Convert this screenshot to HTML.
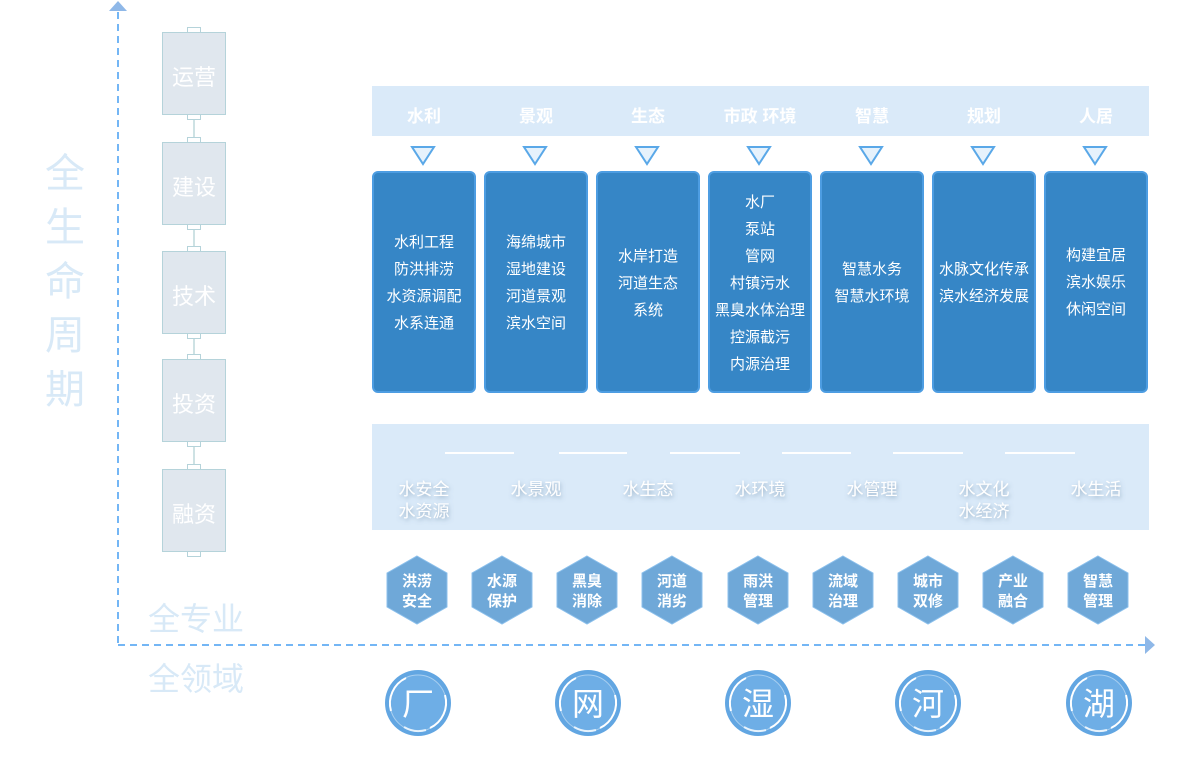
<!DOCTYPE html>
<html><head><meta charset="utf-8"><style>
body{margin:0;background:#fff;width:1201px;height:781px;overflow:hidden}
svg{display:block;font-family:"Liberation Sans","Noto Sans CJK SC",sans-serif}
</style></head><body>
<svg width="1201" height="781" viewBox="0 0 1201 781">
<defs><filter id="sh" x="-20%" y="-20%" width="140%" height="160%"><feDropShadow dx="1" dy="2" stdDeviation="2" flood-color="#5a7a98" flood-opacity="0.55"/></filter></defs>
<line x1="118" y1="12" x2="118" y2="645" stroke="#74b6f5" stroke-width="2" stroke-dasharray="7,5"/>
<polygon points="109,11 118,1 127,11" fill="#8fb8e8"/>
<line x1="118" y1="645" x2="1145" y2="645" stroke="#74b6f5" stroke-width="2" stroke-dasharray="7,5"/>
<polygon points="1145,636 1155,645 1145,654" fill="#8fb8e8"/>
<g fill="#d8e9f7" font-size="40" text-anchor="middle">
<text x="65" y="187">全</text><text x="65" y="241">生</text><text x="65" y="295">命</text><text x="65" y="349">周</text><text x="65" y="403">期</text>
</g>
<g fill="#d8e9f7" font-size="32"><text x="148" y="630">全专业</text><text x="148" y="690">全领域</text></g>
<g stroke="#b5d3da" fill="#fff">
<line x1="194" y1="118" x2="194" y2="140" stroke="#9cc4c8"/>
<line x1="194" y1="228" x2="194" y2="248" stroke="#9cc4c8"/>
<line x1="194" y1="337" x2="194" y2="356" stroke="#9cc4c8"/>
<line x1="194" y1="445" x2="194" y2="466" stroke="#9cc4c8"/>
<rect x="187.5" y="27.5" width="13" height="5"/><rect x="187.5" y="114.5" width="13" height="5"/>
<rect x="187.5" y="137.5" width="13" height="5"/><rect x="187.5" y="224.5" width="13" height="5"/>
<rect x="187.5" y="246.5" width="13" height="5"/><rect x="187.5" y="333.5" width="13" height="5"/>
<rect x="187.5" y="354.5" width="13" height="5"/><rect x="187.5" y="441.5" width="13" height="5"/>
<rect x="187.5" y="464.5" width="13" height="5"/><rect x="187.5" y="551.5" width="13" height="5"/>
</g>
<g fill="#e0e7ee" stroke="#b5d3da">
<rect x="162.5" y="32.5" width="63" height="82"/><rect x="162.5" y="142.5" width="63" height="82"/>
<rect x="162.5" y="251.5" width="63" height="82"/><rect x="162.5" y="359.5" width="63" height="82"/>
<rect x="162.5" y="469.5" width="63" height="82"/>
</g>
<g fill="#fff" font-size="22" text-anchor="middle">
<text x="194" y="85">运营</text><text x="194" y="195">建设</text><text x="194" y="304">技术</text><text x="194" y="412">投资</text><text x="194" y="522">融资</text>
</g>
<rect x="372" y="86" width="777" height="50" fill="#daeaf9"/>
<g fill="#fff" font-size="17" font-weight="bold" text-anchor="middle">
<text x="424" y="122">水利</text><text x="536" y="122">景观</text><text x="648" y="122">生态</text><text x="760" y="122">市政 环境</text><text x="872" y="122">智慧</text><text x="984" y="122">规划</text><text x="1096" y="122">人居</text>
</g>
<g fill="#e6f2fc" stroke="#5aa8e8" stroke-width="2">
<polygon points="412,147 434,147 423,164"/><polygon points="524,147 546,147 535,164"/><polygon points="636,147 658,147 647,164"/><polygon points="748,147 770,147 759,164"/><polygon points="860,147 882,147 871,164"/><polygon points="972,147 994,147 983,164"/><polygon points="1084,147 1106,147 1095,164"/>
</g>
<g fill="#3686c6" stroke="#4d9de2" stroke-width="2">
<rect x="373" y="172" width="102" height="220" rx="5"/><rect x="485" y="172" width="102" height="220" rx="5"/><rect x="597" y="172" width="102" height="220" rx="5"/><rect x="709" y="172" width="102" height="220" rx="5"/><rect x="821" y="172" width="102" height="220" rx="5"/><rect x="933" y="172" width="102" height="220" rx="5"/><rect x="1045" y="172" width="102" height="220" rx="5"/>
</g>
<g fill="#fff" font-size="15" text-anchor="middle">
<text x="424" y="247">水利工程</text><text x="424" y="274">防洪排涝</text><text x="424" y="301">水资源调配</text><text x="424" y="328">水系连通</text>
<text x="536" y="247">海绵城市</text><text x="536" y="274">湿地建设</text><text x="536" y="301">河道景观</text><text x="536" y="328">滨水空间</text>
<text x="648" y="261">水岸打造</text><text x="648" y="288">河道生态</text><text x="648" y="315">系统</text>
<text x="760" y="207">水厂</text><text x="760" y="234">泵站</text><text x="760" y="261">管网</text><text x="760" y="288">村镇污水</text><text x="760" y="315">黑臭水体治理</text><text x="760" y="342">控源截污</text><text x="760" y="369">内源治理</text>
<text x="872" y="274">智慧水务</text><text x="872" y="301">智慧水环境</text>
<text x="984" y="274">水脉文化传承</text><text x="984" y="301">滨水经济发展</text>
<text x="1096" y="260">构建宜居</text><text x="1096" y="287">滨水娱乐</text><text x="1096" y="314">休闲空间</text>
</g>
<rect x="372" y="424" width="777" height="106" fill="#daeaf9"/>
<g stroke="#fff" stroke-width="2">
<line x1="445" y1="453" x2="514" y2="453"/><line x1="559" y1="453" x2="627" y2="453"/><line x1="670" y1="453" x2="740" y2="453"/><line x1="782" y1="453" x2="851" y2="453"/><line x1="893" y1="453" x2="963" y2="453"/><line x1="1005" y1="453" x2="1075" y2="453"/>
</g>
<g fill="#fff" font-size="17" text-anchor="middle" filter="url(#sh)">
<text x="424" y="495">水安全</text><text x="424" y="517">水资源</text><text x="536" y="495">水景观</text><text x="648" y="495">水生态</text><text x="760" y="495">水环境</text><text x="872" y="495">水管理</text><text x="984" y="495">水文化</text><text x="984" y="517">水经济</text><text x="1096" y="495">水生活</text>
</g>
<g fill="#6fa8d8" stroke="#8cc0ec" stroke-width="1">
<polygon points="417,556 447,573 447,607 417,624 387,607 387,573"/>
<polygon points="502,556 532,573 532,607 502,624 472,607 472,573"/>
<polygon points="587,556 617,573 617,607 587,624 557,607 557,573"/>
<polygon points="672,556 702,573 702,607 672,624 642,607 642,573"/>
<polygon points="758,556 788,573 788,607 758,624 728,607 728,573"/>
<polygon points="843,556 873,573 873,607 843,624 813,607 813,573"/>
<polygon points="928,556 958,573 958,607 928,624 898,607 898,573"/>
<polygon points="1013,556 1043,573 1043,607 1013,624 983,607 983,573"/>
<polygon points="1098,556 1128,573 1128,607 1098,624 1068,607 1068,573"/>
</g>
<g fill="#fff" font-size="15" font-weight="bold" text-anchor="middle">
<text x="417" y="586">洪涝</text><text x="417" y="606">安全</text>
<text x="502" y="586">水源</text><text x="502" y="606">保护</text>
<text x="587" y="586">黑臭</text><text x="587" y="606">消除</text>
<text x="672" y="586">河道</text><text x="672" y="606">消劣</text>
<text x="758" y="586">雨洪</text><text x="758" y="606">管理</text>
<text x="843" y="586">流域</text><text x="843" y="606">治理</text>
<text x="928" y="586">城市</text><text x="928" y="606">双修</text>
<text x="1013" y="586">产业</text><text x="1013" y="606">融合</text>
<text x="1098" y="586">智慧</text><text x="1098" y="606">管理</text>
</g>
<g>
<g transform="translate(418,703)"><circle r="33" fill="#62a6e2"/><circle r="28" fill="#6eaee6" stroke="#a9cff0" stroke-width="1"/><path d="M-27,8 A28,28 0 0 1 -12,-25" stroke="#fff" stroke-width="2" fill="none"/><path d="M27,-8 A28,28 0 0 1 12,25" stroke="#fff" stroke-width="2" fill="none"/><path d="M-14,24 A28,28 0 0 0 8,27" stroke="#e8f3fc" stroke-width="2" fill="none"/></g>
<g transform="translate(588,703)"><circle r="33" fill="#62a6e2"/><circle r="28" fill="#6eaee6" stroke="#a9cff0" stroke-width="1"/><path d="M-27,8 A28,28 0 0 1 -12,-25" stroke="#fff" stroke-width="2" fill="none"/><path d="M27,-8 A28,28 0 0 1 12,25" stroke="#fff" stroke-width="2" fill="none"/><path d="M-14,24 A28,28 0 0 0 8,27" stroke="#e8f3fc" stroke-width="2" fill="none"/></g>
<g transform="translate(758,703)"><circle r="33" fill="#62a6e2"/><circle r="28" fill="#6eaee6" stroke="#a9cff0" stroke-width="1"/><path d="M-27,8 A28,28 0 0 1 -12,-25" stroke="#fff" stroke-width="2" fill="none"/><path d="M27,-8 A28,28 0 0 1 12,25" stroke="#fff" stroke-width="2" fill="none"/><path d="M-14,24 A28,28 0 0 0 8,27" stroke="#e8f3fc" stroke-width="2" fill="none"/></g>
<g transform="translate(928,703)"><circle r="33" fill="#62a6e2"/><circle r="28" fill="#6eaee6" stroke="#a9cff0" stroke-width="1"/><path d="M-27,8 A28,28 0 0 1 -12,-25" stroke="#fff" stroke-width="2" fill="none"/><path d="M27,-8 A28,28 0 0 1 12,25" stroke="#fff" stroke-width="2" fill="none"/><path d="M-14,24 A28,28 0 0 0 8,27" stroke="#e8f3fc" stroke-width="2" fill="none"/></g>
<g transform="translate(1099,703)"><circle r="33" fill="#62a6e2"/><circle r="28" fill="#6eaee6" stroke="#a9cff0" stroke-width="1"/><path d="M-27,8 A28,28 0 0 1 -12,-25" stroke="#fff" stroke-width="2" fill="none"/><path d="M27,-8 A28,28 0 0 1 12,25" stroke="#fff" stroke-width="2" fill="none"/><path d="M-14,24 A28,28 0 0 0 8,27" stroke="#e8f3fc" stroke-width="2" fill="none"/></g>
</g>
<g fill="#fff" font-size="32" text-anchor="middle">
<text x="418" y="715">厂</text><text x="588" y="715">网</text><text x="758" y="715">湿</text><text x="928" y="715">河</text><text x="1099" y="715">湖</text>
</g>
</svg>
</body></html>
